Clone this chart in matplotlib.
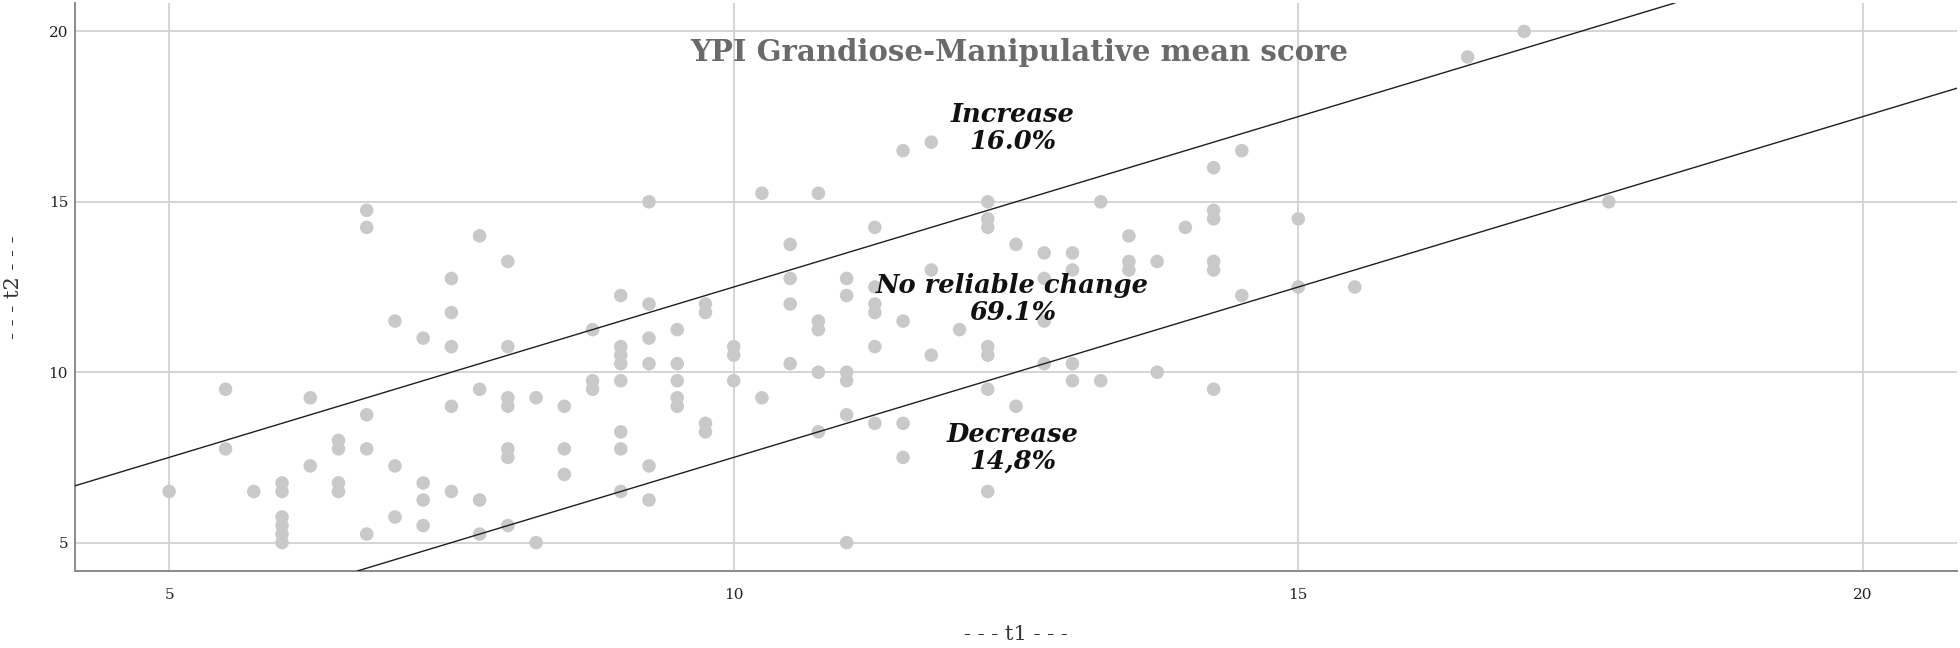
import matplotlib
matplotlib.use("Agg")
import matplotlib.pyplot as plt

# ---------------- data ----------------
t1 = [5.0,
      5.5, 5.5,
      5.75,
      6.0, 6.0, 6.0, 6.0, 6.0, 6.0,
      6.25, 6.25,
      6.5, 6.5, 6.5, 6.5,
      6.75, 6.75, 6.75, 6.75, 6.75,
      7.0, 7.0, 7.0,
      7.25, 7.25, 7.25, 7.25,
      7.5, 7.5, 7.5, 7.5, 7.5,
      7.75, 7.75, 7.75, 7.75,
      8.0, 8.0, 8.0, 8.0, 8.0, 8.0, 8.0,
      8.25, 8.25,
      8.5, 8.5, 8.5,
      8.75, 8.75, 8.75,
      9.0, 9.0, 9.0, 9.0, 9.0, 9.0, 9.0, 9.0,
      9.25, 9.25, 9.25, 9.25, 9.25, 9.25,
      9.5, 9.5, 9.5, 9.5, 9.5,
      9.75, 9.75, 9.75, 9.75,
      10.0, 10.0, 10.0,
      10.25, 10.25,
      10.5, 10.5, 10.5, 10.5,
      10.75, 10.75, 10.75, 10.75, 10.75,
      11.0, 11.0, 11.0, 11.0, 11.0, 11.0,
      11.25, 11.25, 11.25, 11.25, 11.25, 11.25,
      11.5, 11.5, 11.5, 11.5,
      11.75, 11.75, 11.75,
      12.0,
      12.25, 12.25, 12.25, 12.25, 12.25, 12.25, 12.25,
      12.5, 12.5,
      12.75, 12.75, 12.75, 12.75,
      13.0, 13.0, 13.0, 13.0,
      13.25, 13.25,
      13.5, 13.5, 13.5,
      13.75, 13.75,
      14.0,
      14.25, 14.25, 14.25, 14.25, 14.25, 14.25,
      14.5, 14.5,
      15.0, 15.0,
      15.5,
      16.5,
      17.0,
      17.75]

t2 = [6.5,
      9.5, 7.75,
      6.5,
      6.75, 6.5, 5.75, 5.5, 5.25, 5.0,
      9.25, 7.25,
      8.0, 7.75, 6.75, 6.5,
      14.75, 14.25, 8.75, 7.75, 5.25,
      11.5, 7.25, 5.75,
      11.0, 6.75, 6.25, 5.5,
      12.75, 11.75, 10.75, 9.0, 6.5,
      14.0, 9.5, 6.25, 5.25,
      13.25, 10.75, 9.25, 9.0, 7.75, 7.5, 5.5,
      9.25, 5.0,
      9.0, 7.75, 7.0,
      11.25, 9.75, 9.5,
      12.25, 10.75, 10.5, 10.25, 9.75, 8.25, 7.75, 6.5,
      15.0, 12.0, 11.0, 10.25, 7.25, 6.25,
      11.25, 10.25, 9.75, 9.25, 9.0,
      12.0, 11.75, 8.5, 8.25,
      10.75, 10.5, 9.75,
      15.25, 9.25,
      13.75, 12.75, 12.0, 10.25,
      15.25, 11.5, 11.25, 10.0, 8.25,
      12.75, 12.25, 10.0, 9.75, 8.75, 5.0,
      14.25, 12.5, 12.0, 11.75, 10.75, 8.5,
      16.5, 11.5, 8.5, 7.5,
      16.75, 13.0, 10.5,
      11.25,
      15.0, 14.5, 14.25, 10.75, 10.5, 9.5, 6.5,
      13.75, 9.0,
      13.5, 12.75, 11.5, 10.25,
      13.5, 13.0, 10.25, 9.75,
      15.0, 9.75,
      14.0, 13.25, 13.0,
      13.25, 10.0,
      14.25,
      16.0, 14.75, 14.5, 13.25, 13.0, 9.5,
      16.5, 12.25,
      14.5, 12.5,
      12.5,
      19.25,
      20.0,
      15.0]

rci_bound = 2.5                      # reliable-change band half-width
ticks = [5, 10, 15, 20]
tick_labels = ["5", "10", "15", "20"]
title = "YPI Grandiose-Manipulative mean score"
zone_labels = ["Increase\n16.0%", "No reliable change\n69.1%", "Decrease\n14,8%"]
x_label = "- - - t1 - - -"
y_label = "- - - t2 - - -"

# ---------------- layout ----------------
W, H, DPI = 1960, 648, 100
fig = plt.figure(figsize=(W / DPI, H / DPI), dpi=DPI)
ax_l, ax_r, ax_b, ax_t = 75, 1957, 571, 3   # pixel box of the axes
ax = fig.add_axes([ax_l / W, (H - ax_b) / H, (ax_r - ax_l) / W, (ax_b - ax_t) / H])

lo, hi = 25 / 6, 125 / 6
ax.set_xlim(lo, hi)
ax.set_ylim(lo, hi)

serif = "DejaVu Serif"

ax.scatter(t1, t2, s=95, color="#c9c9c9", edgecolors="none", zorder=2)

ax.axline((0, rci_bound), slope=1, color="#1e1e1e", lw=1.0, zorder=3)
ax.axline((0, -rci_bound), slope=1, color="#1e1e1e", lw=1.0, zorder=3)

ax.set_xticks(ticks)
ax.set_yticks(ticks)
ax.set_xticklabels(tick_labels, family=serif, fontsize=11, color="#222222")
ax.set_yticklabels(tick_labels, family=serif, fontsize=11, color="#222222")
ax.tick_params(axis="both", length=0)
ax.tick_params(axis="x", pad=12)
ax.tick_params(axis="y", pad=5)

ax.grid(True, color="#d2d2d2", lw=1.3, zorder=0)
ax.set_axisbelow(True)

for s in ("top", "right"):
    ax.spines[s].set_visible(False)
for s in ("left", "bottom"):
    ax.spines[s].set_color("#8a8a8a")
    ax.spines[s].set_linewidth(1.4)

ax.set_xlabel(x_label, family=serif, fontsize=15, color="#333333", va="center")
ax.xaxis.set_label_coords(0.5, (ax_b - 635) / (ax_b - ax_t))
ax.set_ylabel(y_label, family=serif, fontsize=15, color="#333333", va="center")
ax.yaxis.set_label_coords((13 - ax_l) / (ax_r - ax_l), 0.5)

# title and zone annotations (positions in data space)
ax.text(12.53, 19.38, title, family=serif, fontsize=21, fontweight="bold",
        color="#6a6a6a", ha="center", va="center", zorder=4)
zone_pos = [(12.47, 17.17), (12.47, 12.14), (12.47, 7.77)]
for (xx, yy), lab in zip(zone_pos, zone_labels):
    ax.text(xx, yy, lab, family=serif, fontsize=18.5, fontweight="bold",
            fontstyle="italic", color="#111111", ha="center", va="center",
            linespacing=1.08, zorder=4)

fig.savefig("out.png", dpi=DPI)
